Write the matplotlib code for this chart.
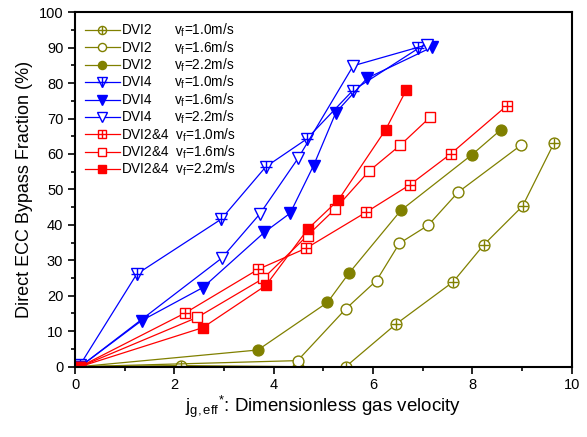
import matplotlib
matplotlib.use("Agg")
import matplotlib.pyplot as plt
from matplotlib.ticker import MultipleLocator

plt.rcParams["font.family"] = "Liberation Sans"
plt.rcParams["mathtext.fontset"] = "custom"
plt.rcParams["mathtext.rm"] = "Liberation Sans"
plt.rcParams["mathtext.it"] = "Liberation Sans"

# DVI2 (olive)
dvi2_10_x = [0.1, 2.13, 4.48, 5.45, 6.46, 7.61, 8.23, 9.01, 9.64]
dvi2_10_y = [0, 0.3, 0, 0, 12.0, 23.9, 34.4, 45.3, 63.0]
dvi2_16_x = [0.1, 4.48, 5.45, 6.07, 6.53, 7.11, 7.71, 8.97]
dvi2_16_y = [0, 1.7, 16.3, 24.3, 34.8, 39.9, 49.2, 62.4]
dvi2_22_x = [0.1, 3.68, 5.08, 5.51, 6.56, 7.99, 8.57]
dvi2_22_y = [0, 4.7, 18.1, 26.3, 44.1, 59.8, 66.8]

# DVI4 (blue)
dvi4_10_x = [0.1, 1.24, 2.94, 3.84, 4.66, 5.59, 6.91]
dvi4_10_y = [0.5, 26.1, 41.6, 56.4, 64.2, 77.9, 89.8]
dvi4_16_x = [0.1, 1.34, 2.57, 3.81, 4.33, 4.80, 5.25, 5.88, 7.18]
dvi4_16_y = [0, 13.0, 22.3, 37.9, 43.3, 56.7, 71.7, 81.4, 90.1]
dvi4_22_x = [0.1, 2.95, 3.72, 4.49, 5.60, 7.08]
dvi4_22_y = [0, 30.6, 43.1, 58.8, 84.9, 90.8]

# DVI2&4 (red)
dvi24_10_x = [0.1, 2.21, 3.69, 4.65, 5.85, 6.74, 7.56, 8.69]
dvi24_10_y = [0, 15.1, 27.5, 33.4, 43.5, 51.3, 60.0, 73.6]
dvi24_16_x = [0.1, 2.46, 3.79, 4.68, 5.23, 5.92, 6.54, 7.15]
dvi24_16_y = [0, 13.9, 24.9, 37.0, 44.4, 55.2, 62.4, 70.4]
dvi24_22_x = [0.1, 2.57, 3.84, 4.69, 5.30, 6.25, 6.67]
dvi24_22_y = [0, 11.0, 22.9, 38.9, 47.0, 66.8, 78.1]

OLIVE, BLUE, RED = "#808000", "#0000FF", "#FF0000"

series = [
    (dvi2_10_x, dvi2_10_y, OLIVE, "o", "open+", 7.8, "DVI2      v$_\\mathrm{f}$=1.0m/s"),
    (dvi2_16_x, dvi2_16_y, OLIVE, "o", "open", 7.8, "DVI2      v$_\\mathrm{f}$=1.6m/s"),
    (dvi2_22_x, dvi2_22_y, OLIVE, "o", "filled", 7.8, "DVI2      v$_\\mathrm{f}$=2.2m/s"),
    (dvi4_10_x, dvi4_10_y, BLUE, "v", "open+", 9.0, "DVI4      v$_\\mathrm{f}$=1.0m/s"),
    (dvi4_16_x, dvi4_16_y, BLUE, "v", "filled", 9.0, "DVI4      v$_\\mathrm{f}$=1.6m/s"),
    (dvi4_22_x, dvi4_22_y, BLUE, "v", "open", 9.0, "DVI4      v$_\\mathrm{f}$=2.2m/s"),
    (dvi24_10_x, dvi24_10_y, RED, "s", "open+", 7.8, "DVI2&4  v$_\\mathrm{f}$=1.0m/s"),
    (dvi24_16_x, dvi24_16_y, RED, "s", "open", 7.8, "DVI2&4  v$_\\mathrm{f}$=1.6m/s"),
    (dvi24_22_x, dvi24_22_y, RED, "s", "filled", 7.8, "DVI2&4  v$_\\mathrm{f}$=2.2m/s"),
]

fig = plt.figure(figsize=(5.87, 4.37), dpi=100)
ax = fig.add_axes([0.128, 0.161, 0.846, 0.811])

handles, labels = [], []
for x, y, c, m, style, ms, lbl in series:
    fc = c if style == "filled" else "white"
    ln, = ax.plot(x, y, "-", color=c, lw=0.9, marker=m, ms=ms, mfc=fc, mec=c, mew=1.0)
    h = ln
    if style == "open+":
        pl, = ax.plot(x, y, ls="none", marker="+", ms=ms, mec=c, mew=1.0)
        h = (ln, pl)
    handles.append(h)
    labels.append(lbl)

ax.set_xlim(0, 10)
ax.set_ylim(0, 100)
ax.xaxis.set_major_locator(MultipleLocator(2))
ax.xaxis.set_minor_locator(MultipleLocator(1))
ax.yaxis.set_major_locator(MultipleLocator(10))
ax.yaxis.set_minor_locator(MultipleLocator(5))
ax.tick_params(which="both", direction="out", top=False, right=False, labelsize=10.5, width=1.2)
ax.tick_params(which="major", length=5)
ax.tick_params(which="minor", length=3)
for s in ax.spines.values():
    s.set_linewidth(1.5)

ax.set_xlabel("j$_{\\mathrm{g,eff}}{}^{*}$: Dimensionless gas velocity", fontsize=13.5, labelpad=1)
ax.set_ylabel("Direct ECC Bypass Fraction (%)", fontsize=13, labelpad=4)

ax.legend(handles, labels, loc="upper left", frameon=False, fontsize=9.8,
          handlelength=2.6, handletextpad=0.1, labelspacing=0.0, markerscale=0.75,
          borderaxespad=0.3)

fig.savefig("out.png", dpi=100)
